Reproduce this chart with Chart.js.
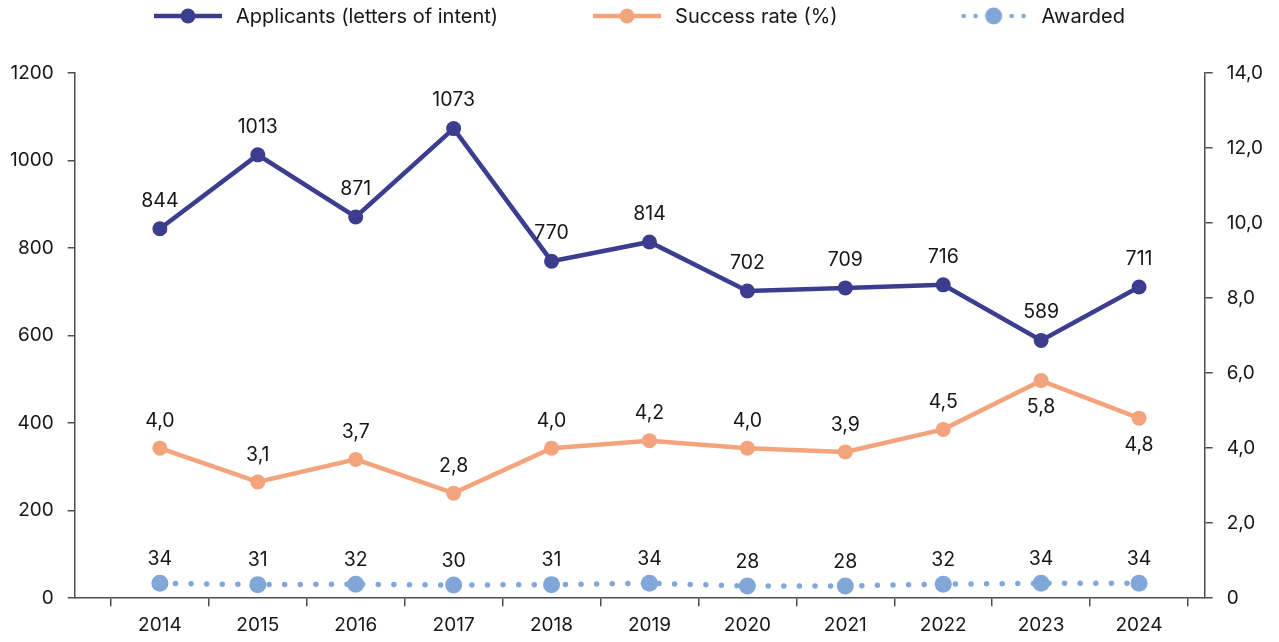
<!DOCTYPE html>
<html>
<head>
<meta charset="utf-8">
<script src="https://cdn.jsdelivr.net/npm/chart.js@4"></script>
<style>
  html, body { margin: 0; padding: 0; background: #fff; }
  #wrap { width: 1279px; height: 642px; }
</style>
</head>
<body>
<div id="wrap"><canvas id="mainChart"></canvas></div>
<script>
var years = ["2014", "2015", "2016", "2017", "2018", "2019", "2020", "2021", "2022", "2023", "2024"]
var applicants = [844, 1013, 871, 1073, 770, 814, 702, 709, 716, 589, 711]
var successRate = [4.0, 3.1, 3.7, 2.8, 4.0, 4.2, 4.0, 3.9, 4.5, 5.8, 4.8]
var awarded = [34, 31, 32, 30, 31, 34, 28, 28, 32, 34, 34]

var leftTicks = [0, 200, 400, 600, 800, 1000, 1200]
var rightTicks = [0, 2, 4, 6, 8, 10, 12, 14]

var FONT = "Inter, 'DejaVu Sans', sans-serif"
var TEXT = "#161616"
var AXIS = "#4d4d4d"
var C_APP = "#3d3d8f"
var C_RATE = "#f4a47c"
var C_AWD = "#80a7d8"

function toXY(arr) {
   return arr.map(function (v, i) { return { x: i, y: v } })
}
function comma(v) {
   return v.toFixed(1).replace(".", ",")
}

// chart.js counts tick padding twice when sizing an axis, drop the extra
function trimWidth(scale) {
   scale.width -= scale.options.ticks.padding
}
function trimHeight(scale) {
   scale.paddingLeft = 0
   scale.paddingRight = 0
   scale.height -= scale.options.ticks.padding
}

// legend icons: line + point
function makeIcon(color, dotted, r) {
   var c = document.createElement("canvas")
   c.width = 68
   c.height = 20
   var g = c.getContext("2d")
   g.strokeStyle = color
   g.fillStyle = color
   g.lineWidth = 4.5
   if (dotted) {
      g.lineCap = "round"
      g.setLineDash([0, 12])
      g.beginPath()
      g.moveTo(4, 10)
      g.lineTo(66, 10)
      g.stroke()
   } else {
      g.beginPath()
      g.moveTo(0, 10)
      g.lineTo(68, 10)
      g.stroke()
   }
   g.beginPath()
   g.arc(34, 10, r, 0, Math.PI * 2)
   g.fill()
   return c
}

var legendPlugin = {
   id: "lineLegend",
   afterDraw: function (chart) {
      var ctx = chart.ctx
      var ds = chart.data.datasets
      var gaps = [95, 122], iconW = 68, textGap = 14, cy = 16
      ctx.save()
      ctx.font = "20px " + FONT
      var widths = ds.map(function (d) { return iconW + textGap + ctx.measureText(d.label).width })
      var total = widths.reduce(function (a, b) { return a + b }, 0) + gaps[0] + gaps[1]
      var x = chart.width / 2 - total / 2
      ds.forEach(function (d, i) {
         ctx.drawImage(d.legendIcon, x, cy - 10)
         ctx.fillStyle = TEXT
         ctx.textAlign = "left"
         ctx.textBaseline = "middle"
         ctx.fillText(d.label, x + iconW + textGap, cy + 1)
         x += widths[i] + (gaps[i] || 0)
      })
      ctx.restore()
   },
}

var valueLabels = {
   id: "valueLabels",
   afterDatasetsDraw: function (chart) {
      var ctx = chart.ctx
      ctx.save()
      ctx.font = "19.5px " + FONT
      ctx.fillStyle = TEXT
      ctx.textAlign = "center"
      ctx.textBaseline = "middle"
      chart.data.datasets.forEach(function (d, di) {
         var meta = chart.getDatasetMeta(di)
         meta.data.forEach(function (pt, i) {
            var below = d.labelBelow && d.labelBelow.indexOf(i) >= 0
            var dy = below ? d.labelOffset : -d.labelOffset
            ctx.fillText(d.fmt(d.data[i].y), pt.x, pt.y + dy)
         })
      })
      ctx.restore()
   },
}

var ctx = document.getElementById("mainChart").getContext("2d")
var chart = new Chart(ctx, {
   type: "line",
   data: {
      datasets: [
         {
            label: "Applicants (letters of intent)",
            data: toXY(applicants),
            yAxisID: "y",
            borderColor: C_APP,
            backgroundColor: C_APP,
            borderWidth: 4.5,
            pointRadius: 7.5,
            pointHoverRadius: 7.5,
            pointBorderWidth: 0,
            labelOffset: 28,
            fmt: function (v) { return String(v) },
            legendIcon: makeIcon(C_APP, false, 7.5),
         },
         {
            label: "Success rate (%)",
            data: toXY(successRate),
            yAxisID: "y1",
            borderColor: C_RATE,
            backgroundColor: C_RATE,
            borderWidth: 4.5,
            pointRadius: 7.5,
            pointHoverRadius: 7.5,
            pointBorderWidth: 0,
            labelOffset: 27,
            labelBelow: [9, 10],
            fmt: comma,
            legendIcon: makeIcon(C_RATE, false, 7.5),
         },
         {
            label: "Awarded",
            data: toXY(awarded),
            yAxisID: "y",
            borderColor: C_AWD,
            backgroundColor: C_AWD,
            borderWidth: 5.5,
            borderDash: [0, 15.6],
            borderCapStyle: "round",
            pointRadius: 8.5,
            pointHoverRadius: 8.5,
            pointBorderWidth: 0,
            labelOffset: 24,
            fmt: function (v) { return String(v) },
            legendIcon: makeIcon(C_AWD, true, 8.5),
         },
      ],
   },
   options: {
      responsive: true,
      maintainAspectRatio: false,
      animation: false,
      layout: {
         autoPadding: false,
         padding: { top: 73, left: 10, right: 16, bottom: 5 },
      },
      plugins: {
         legend: { display: false },
         tooltip: { enabled: false },
      },
      scales: {
         x: {
            type: "linear",
            min: -0.87,
            max: 10.67,
            afterBuildTicks: function (scale) {
               scale.ticks = years.map(function (_, i) { return { value: i } })
            },
            afterFit: trimHeight,
            border: { display: true, color: AXIS, width: 1.5 },
            grid: {
               offset: true,
               drawOnChartArea: false,
               drawTicks: true,
               tickLength: 8,
               color: AXIS,
               lineWidth: 1.5,
            },
            ticks: {
               autoSkip: false,
               maxRotation: 0,
               padding: 8,
               color: TEXT,
               font: { family: FONT, size: 19 },
               callback: function (v) { return years[v] },
            },
         },
         y: {
            position: "left",
            min: 0,
            max: 1200,
            afterBuildTicks: function (scale) {
               scale.ticks = leftTicks.map(function (v) { return { value: v } })
            },
            afterFit: trimWidth,
            border: { display: true, color: AXIS, width: 1.5 },
            grid: {
               drawOnChartArea: false,
               drawTicks: true,
               tickLength: 7,
               color: AXIS,
               lineWidth: 1.5,
            },
            ticks: {
               padding: 14,
               color: TEXT,
               font: { family: FONT, size: 19 },
               callback: function (v) { return String(v) },
            },
         },
         y1: {
            position: "right",
            min: 0,
            max: 14,
            afterBuildTicks: function (scale) {
               scale.ticks = rightTicks.map(function (v) { return { value: v } })
            },
            afterFit: trimWidth,
            border: { display: true, color: AXIS, width: 1.5 },
            grid: {
               drawOnChartArea: false,
               drawTicks: true,
               tickLength: 8,
               color: AXIS,
               lineWidth: 1.5,
            },
            ticks: {
               padding: 14,
               color: TEXT,
               font: { family: FONT, size: 19 },
               callback: function (v) { return v === 0 ? "0" : comma(v) },
            },
         },
      },
   },
   plugins: [legendPlugin, valueLabels],
})
</script>
</body>
</html>
